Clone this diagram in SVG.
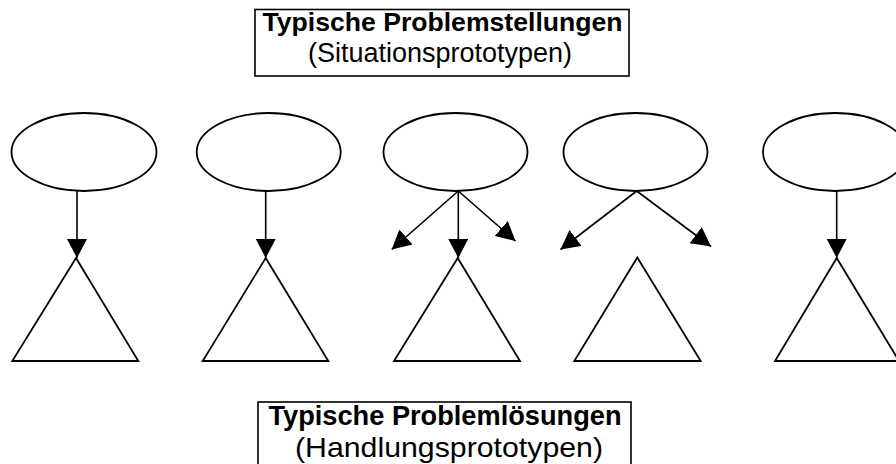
<svg xmlns="http://www.w3.org/2000/svg" width="896" height="464" viewBox="0 0 896 464">
<defs>
<style>
.box{fill:#fff;stroke:#000;stroke-width:1.6}
.ell{fill:#fff;stroke:#000;stroke-width:1.8}
.tri{fill:#fff;stroke:#000;stroke-width:1.8;stroke-linejoin:miter}
.con{fill:none;stroke:#000;stroke-width:1.6}
.t{font-family:"Liberation Sans",Arial,sans-serif;fill:#000;text-anchor:middle}
.b{font-weight:bold}
</style>
<marker id="ah" viewBox="0 0 19 20" refX="19" refY="10" markerWidth="19" markerHeight="20" markerUnits="userSpaceOnUse" orient="auto">
<path d="M0,0 L19,10 L0,20 z" fill="#000"/>
</marker>
</defs>
<rect width="896" height="464" fill="#fff"/>
<g id="top-label">
<rect class="box" x="255" y="9.5" width="374" height="66.5"/>
<text class="t b" x="442.5" y="30.5" font-size="26.6">Typische Problemstellungen</text>
<text class="t" x="440" y="62" font-size="27">(Situationsprototypen)</text>
</g>
<g id="bottom-label">
<rect class="box" x="258" y="402" width="373" height="70"/>
<text class="t b" x="445" y="424.5" font-size="27.2">Typische Problemlösungen</text>
<text class="t" x="449" y="457" font-size="28" textLength="308" lengthAdjust="spacingAndGlyphs">(Handlungsprototypen)</text>
</g>
<g id="situation1"><ellipse class="ell" cx="84" cy="152" rx="72.5" ry="39"/></g>
<g id="situation2"><ellipse class="ell" cx="268.7" cy="152" rx="72" ry="39"/></g>
<g id="situation3"><ellipse class="ell" cx="455.5" cy="152" rx="72" ry="39"/></g>
<g id="situation4"><ellipse class="ell" cx="635.5" cy="152" rx="72" ry="39"/></g>
<g id="situation5"><ellipse class="ell" cx="835" cy="152" rx="72" ry="39"/></g>
<g id="solution1"><polygon class="tri" points="76,258 138.3,361 12.3,361"/></g>
<g id="solution2"><polygon class="tri" points="265.7,258 328.3,361 202.7,361"/></g>
<g id="solution3"><polygon class="tri" points="457.7,258 520,361 394,361"/></g>
<g id="solution4"><polygon class="tri" points="637.3,257.5 700.7,361 574.3,361"/></g>
<g id="solution5"><polygon class="tri" points="836.7,258 899,361 775,361"/></g>
<g id="connectors">
<line class="con" x1="77" y1="191" x2="77" y2="258" marker-end="url(#ah)"/>
<line class="con" x1="265.7" y1="191" x2="265.7" y2="258" marker-end="url(#ah)"/>
<line class="con" x1="458.3" y1="191" x2="458.3" y2="258" marker-end="url(#ah)"/>
<line class="con" x1="458.3" y1="191" x2="391.7" y2="249.5" marker-end="url(#ah)"/>
<line class="con" x1="458.3" y1="191" x2="515.5" y2="241" marker-end="url(#ah)"/>
<line class="con" x1="636.7" y1="191" x2="560.5" y2="249.5" marker-end="url(#ah)"/>
<line class="con" x1="636.7" y1="191" x2="711" y2="246.5" marker-end="url(#ah)"/>
<line class="con" x1="836.7" y1="191" x2="836.7" y2="258" marker-end="url(#ah)"/>
</g>
</svg>
